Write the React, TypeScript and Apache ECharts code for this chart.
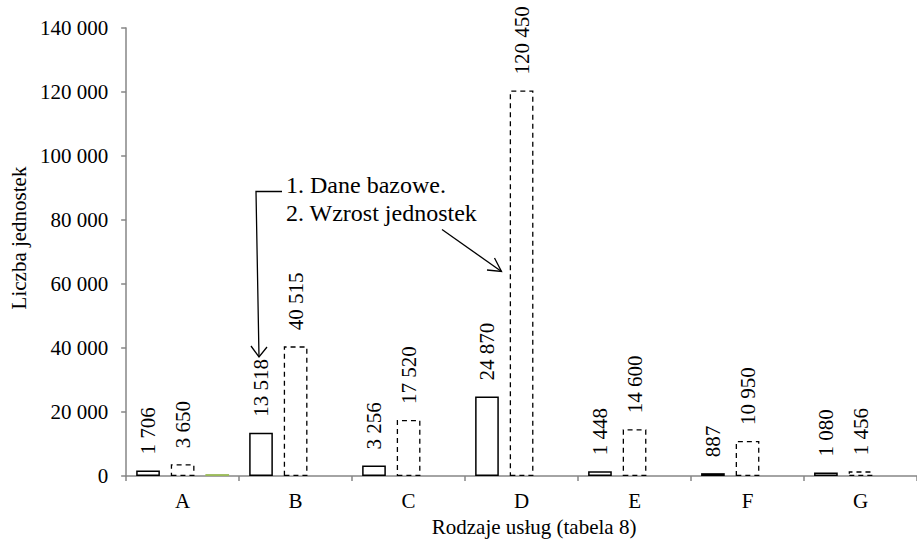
import React, { useEffect, useRef } from "react";
import * as echarts from "echarts";

const categories = ["A", "B", "C", "D", "E", "F", "G"];
const baseValues = [1706, 13518, 3256, 24870, 1448, 887, 1080];
const growthValues = [3650, 40515, 17520, 120450, 14600, 10950, 1456];
const thirdValues: (number | null)[] = [600, null, null, null, null, null, null];
const yTicks = { min: 0, max: 140000, interval: 20000 };
const annotationLines = ["1. Dane bazowe.", "2. Wzrost jednostek"];

const FONT = "Liberation Serif";
const fmt = (v: number) => String(v).replace(/\B(?=(\d{3})+(?!\d))/g, " ");

export default function App() {
  const ref = useRef<HTMLDivElement>(null);
  useEffect(() => {
    if (!ref.current) return;
    const chart = echarts.init(ref.current, undefined, { renderer: "svg" });
    const label = {
      show: true,
      position: "top",
      rotate: 90,
      align: "left",
      verticalAlign: "middle",
      distance: 16,
      fontFamily: FONT,
      fontSize: 21,
      color: "#000",
      formatter: (p: any) => fmt(p.value),
    };
    const lineStyle = { stroke: "#000", lineWidth: 1.3 };
    chart.setOption({
      animation: false,
      backgroundColor: "#fff",
      textStyle: { fontFamily: FONT },
      grid: { left: 120, top: 28, width: 807, height: 453, containLabel: false },
      xAxis: {
        type: "category",
        data: categories,
        name: "Rodzaje usług (tabela 8)",
        nameLocation: "middle",
        nameGap: 40,
        nameTextStyle: { fontFamily: FONT, fontSize: 21, color: "#000", padding: [0, 0, 0, 25] },
        axisLine: { lineStyle: { color: "#868686", width: 1.5 } },
        axisTick: { show: true, length: 5, lineStyle: { color: "#868686", width: 1.5 } },
        axisLabel: { fontFamily: FONT, fontSize: 21, color: "#000", margin: 14 },
      },
      yAxis: {
        type: "value",
        min: yTicks.min,
        max: yTicks.max,
        interval: yTicks.interval,
        name: "Liczba jednostek",
        nameLocation: "middle",
        nameRotate: 90,
        nameGap: 96,
        nameTextStyle: { fontFamily: FONT, fontSize: 21, color: "#000", padding: [0, 0, 0, 28] },
        axisLine: { show: true, lineStyle: { color: "#868686", width: 1.5 } },
        axisTick: { show: true, length: 5, lineStyle: { color: "#868686", width: 1.5 } },
        splitLine: { show: false },
        axisLabel: { fontFamily: FONT, fontSize: 21, color: "#000", margin: 18, formatter: (v: number) => fmt(v) },
      },
      series: [
        {
          name: "Dane bazowe",
          type: "bar",
          data: baseValues,
          barWidth: 23.7,
          barGap: "46%",
          itemStyle: { color: "#fff", borderColor: "#000", borderWidth: 1.5 },
          label,
        },
        {
          name: "Wzrost jednostek",
          type: "bar",
          data: growthValues,
          barWidth: 23.7,
          barGap: "46%",
          itemStyle: { color: "#fff", borderColor: "#000", borderWidth: 1.3, borderType: [5, 4] },
          label,
        },
        {
          name: "Seria 3",
          type: "bar",
          data: thirdValues,
          barWidth: 23.7,
          barGap: "46%",
          itemStyle: { color: "#9bbb59" },
        },
      ],
      graphic: [
        {
          type: "text",
          left: 286,
          top: 173,
          style: { text: annotationLines[0], fontFamily: FONT, fontSize: 24, fill: "#000" },
        },
        {
          type: "text",
          left: 286,
          top: 201,
          style: { text: annotationLines[1], fontFamily: FONT, fontSize: 24, fill: "#000" },
        },
        { type: "polyline", shape: { points: [[282, 191.5], [256, 191.5], [259, 357]] }, style: { ...lineStyle, fill: null } },
        { type: "polyline", shape: { points: [[251, 346], [259, 357], [267, 347]] }, style: { ...lineStyle, fill: null } },
        { type: "line", shape: { x1: 442, y1: 229.5, x2: 501.5, y2: 271.5 }, style: lineStyle },
        { type: "polyline", shape: { points: [[494.5, 258], [501.5, 271.5], [487, 270]] }, style: { ...lineStyle, fill: null } },
      ],
    });
    return () => chart.dispose();
  }, []);
  return (
    <div
      ref={ref}
      style={{ position: "fixed", left: 0, top: 0, width: 917, height: 542, background: "#fff" }}
    />
  );
}
